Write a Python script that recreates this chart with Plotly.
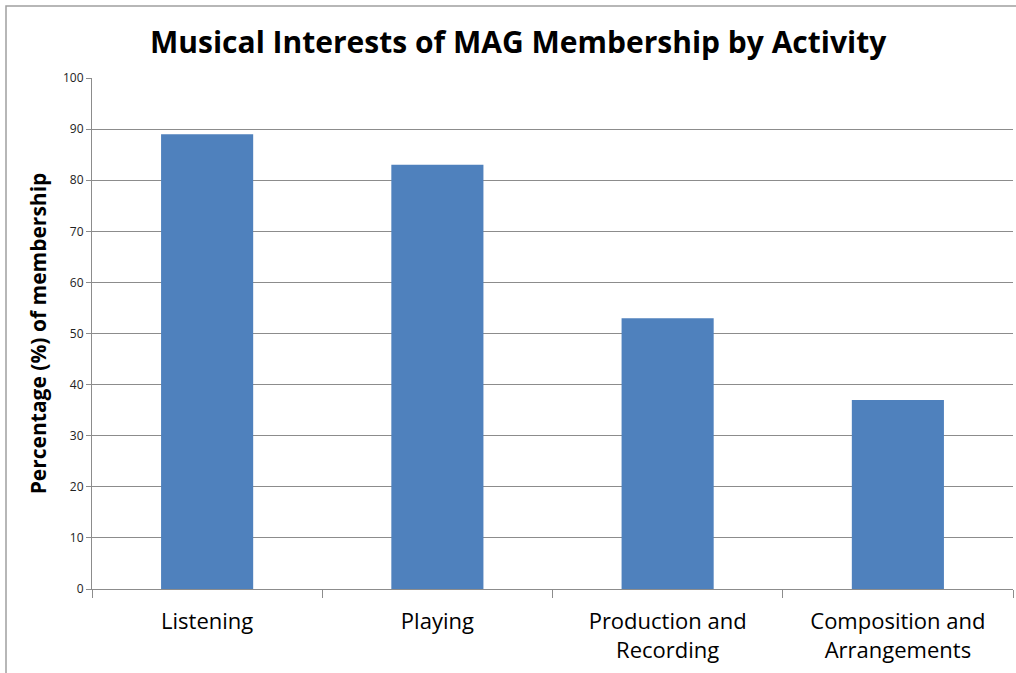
import plotly.graph_objects as go

categories = ["Listening", "Playing", "Production and<br>Recording", "Composition and<br>Arrangements"]
values = [89, 83, 53, 37]
y_ticks = [0, 10, 20, 30, 40, 50, 60, 70, 80, 90, 100]

FONT = "Open Sans"

fig = go.Figure(go.Bar(x=categories, y=values, marker=dict(color="#4F81BD", line=dict(width=0)), width=0.4))

fig.update_layout(
    width=1016, height=673,
    margin=dict(l=92, r=3, t=78, b=84),
    paper_bgcolor="white", plot_bgcolor="white",
    showlegend=False,
    title=dict(text="<b>Musical Interests of MAG Membership by Activity</b>",
               x=0.51, xanchor="center", y=1 - 42/673, yanchor="middle",
               font=dict(family=FONT, size=30, color="black")),
    font=dict(family=FONT),
)
fig.update_yaxes(range=[0, 100], tickvals=y_ticks, showgrid=True, gridcolor="#8C8C8C", gridwidth=1,
                 ticks="outside", ticklen=5, tickcolor="#8C8C8C", showline=True, linecolor="#8C8C8C",
                 tickfont=dict(family=FONT, size=12, color="#222"), zeroline=False,
                 title=dict(text="<b>Percentage (%) of membership</b>", font=dict(family=FONT, size=21, color="black"), standoff=10))
fig.update_xaxes(tickson="boundaries", ticks="outside", ticklen=8, tickcolor="#8C8C8C", showline=True,
                 linecolor="#8C8C8C", tickfont=dict(family=FONT, size=22, color="black"), showgrid=False,
                 ticklabelstandoff=13)

fig.add_shape(type="rect", xref="paper", yref="paper",
              x0=(6-92)/921, x1=(1040-92)/921, y0=-(700-589)/511, y1=1 + (78-6)/511,
              line=dict(color="#A0A0A0", width=1.5), fillcolor="rgba(0,0,0,0)", layer="below")

fig.write_html("out.html")
